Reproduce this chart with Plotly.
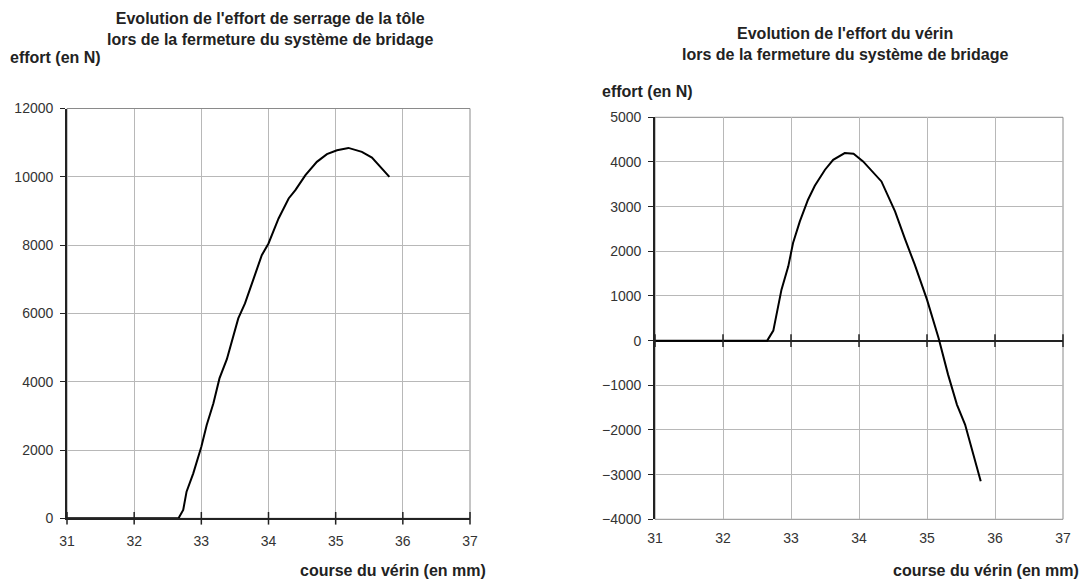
import plotly.graph_objects as go

# Left chart: effort de serrage de la tôle
left_x = [31.0, 32.0, 32.66, 32.73, 32.78, 32.88, 33.0, 33.08, 33.18, 33.27, 33.38, 33.55, 33.65,
          33.78, 33.9, 34.0, 34.15, 34.3, 34.4, 34.55, 34.72, 34.87, 35.02, 35.19, 35.39, 35.54, 35.8]
left_y = [0, 0, 0, 243, 780, 1317, 2095, 2730, 3366, 4097, 4660, 5853, 6292,
          7024, 7706, 8048, 8780, 9365, 9609, 10048, 10438, 10662, 10779, 10846, 10729, 10565, 10000]

# Right chart: effort du vérin
right_x = [31.0, 32.0, 32.65, 32.74, 32.86, 32.96, 33.03, 33.13, 33.25, 33.35, 33.5, 33.62, 33.79,
           33.92, 34.06, 34.33, 34.53, 34.68, 34.82, 35.0, 35.17, 35.31, 35.44, 35.56, 35.79]
right_y = [0, 0, 0, 224, 1141, 1663, 2185, 2669, 3154, 3468, 3826, 4049, 4199,
           4183, 4012, 3564, 2893, 2260, 1700, 917, 60, -761, -1432, -1879, -3148]

x_ticks = [31, 32, 33, 34, 35, 36, 37]
left_yticks = [0, 2000, 4000, 6000, 8000, 10000, 12000]
right_yticks = [-4000, -3000, -2000, -1000, 0, 1000, 2000, 3000, 4000, 5000]

title_left = "Evolution de l'effort de serrage de la tôle<br>lors de la fermeture du système de bridage"
title_right = "Evolution de l'effort du vérin<br>lors de la fermeture du système de bridage"
ylabel = "effort (en N)"
xlabel = "course du vérin (en mm)"

FONT = "Liberation Sans, Arial, sans-serif"
GRID = "#b8b8b8"
AXIS = "#222222"
TICKFONT = dict(family=FONT, size=14, color="#333333")

fig = go.Figure()

fig.add_trace(go.Scatter(x=left_x, y=left_y, mode="lines", line=dict(color="black", width=2),
                         xaxis="x", yaxis="y", showlegend=False, hoverinfo="skip"))
fig.add_trace(go.Scatter(x=right_x, y=right_y, mode="lines", line=dict(color="black", width=2),
                         xaxis="x2", yaxis="y2", showlegend=False, hoverinfo="skip"))

# tick marks crossing the y=0 line
for xa, ya in (("x", "y"), ("x2", "y2")):
    fig.add_trace(go.Scatter(x=x_ticks, y=[0] * len(x_ticks), mode="markers",
                             marker=dict(symbol="line-ns", size=9, line=dict(color=AXIS, width=1.5)),
                             xaxis=xa, yaxis=ya, showlegend=False, hoverinfo="skip", cliponaxis=False))

L_dom_x = [67 / 1086, 470 / 1086]
L_dom_y = [1 - 518.3 / 580, 1 - 108.5 / 580]
R_dom_x = [655 / 1086, 1063 / 1086]
R_dom_y = [1 - 519.3 / 580, 1 - 117.3 / 580]

common_x = dict(range=[31, 37], tickvals=x_ticks, showgrid=True, gridcolor=GRID, gridwidth=1,
                zeroline=False, ticks="", tickfont=TICKFONT, ticklabelstandoff=9, fixedrange=True,
                automargin=False)
common_y = dict(showgrid=True, gridcolor=GRID, gridwidth=1, showline=True, linecolor=AXIS,
                linewidth=1.8, ticks="outside", ticklen=5, tickcolor=AXIS, tickwidth=1,
                tickfont=TICKFONT, ticklabelstandoff=4, fixedrange=True, automargin=False,
                tickformat="d")

fig.update_layout(
    width=1086, height=580,
    margin=dict(l=0, r=0, t=0, b=0, pad=0),
    paper_bgcolor="white", plot_bgcolor="white",
    xaxis=dict(domain=L_dom_x, anchor="y", showline=True, linecolor=AXIS, linewidth=1.5, **common_x),
    yaxis=dict(domain=L_dom_y, anchor="x", range=[0, 12000], tickvals=left_yticks, zeroline=False, **common_y),
    xaxis2=dict(domain=R_dom_x, anchor="y2", showline=False, **common_x),
    yaxis2=dict(domain=R_dom_y, anchor="x2", range=[-4000, 5000], tickvals=right_yticks,
                zeroline=True, zerolinecolor=AXIS, zerolinewidth=1.5, **common_y),
)

# gray frame around plot areas
for xr, yr in (("x domain", "y domain"), ("x2 domain", "y2 domain")):
    fig.add_shape(type="rect", xref=xr, yref=yr, x0=0, x1=1, y0=0, y1=1,
                  line=dict(color="#8a8a8a", width=1), layer="below")

bold = dict(family=FONT, size=16, color="#222222")
ann = [
    dict(text="<b>" + title_left + "</b>", x=270, y=29, xanchor="center", yanchor="middle"),
    dict(text="<b>" + title_right + "</b>", x=845, y=44, xanchor="center", yanchor="middle"),
    dict(text="<b>" + ylabel + "</b>", x=8, y=58, xanchor="left", yanchor="middle"),
    dict(text="<b>" + ylabel + "</b>", x=600, y=91, xanchor="left", yanchor="middle"),
    dict(text="<b>" + xlabel + "</b>", x=488, y=570, xanchor="right", yanchor="middle"),
    dict(text="<b>" + xlabel + "</b>", x=1081, y=570, xanchor="right", yanchor="middle"),
]
for a in ann:
    fig.add_annotation(text=a["text"], x=a["x"] / 1086, y=1 - a["y"] / 580, xref="paper", yref="paper",
                       xanchor=a["xanchor"], yanchor=a["yanchor"], showarrow=False, font=bold,
                       align="center")

fig.write_html("out.html")
